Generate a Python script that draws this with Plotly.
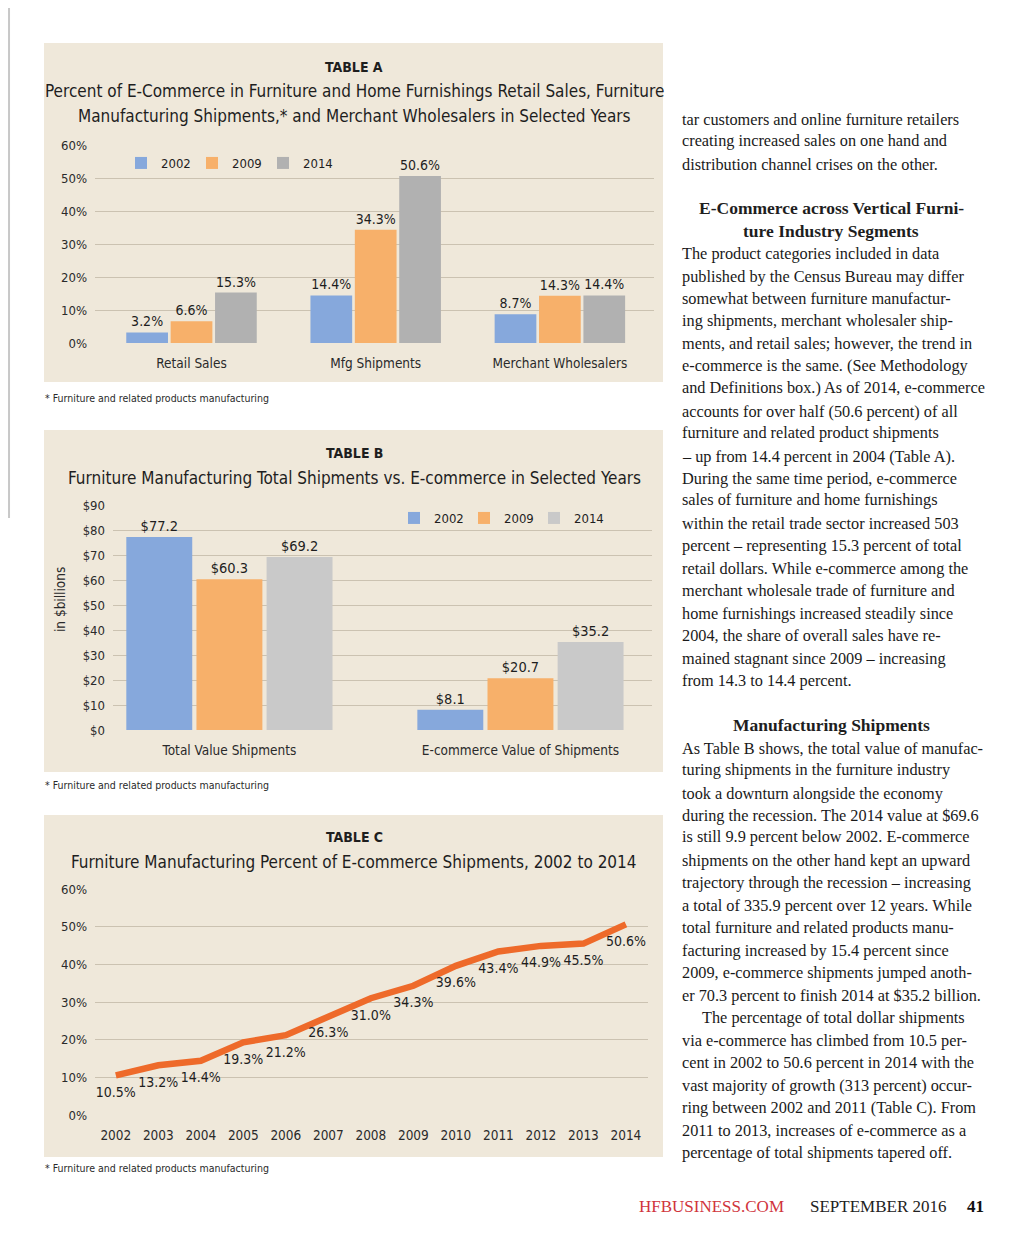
import plotly.graph_objects as go

W, H = 1024, 1255

# ---------------- data ----------------
cats_a = ["Retail Sales", "Mfg Shipments", "Merchant Wholesalers"]
a_2002 = [3.2, 14.4, 8.7]
a_2009 = [6.6, 34.3, 14.3]
a_2014 = [15.3, 50.6, 14.4]

cats_b = ["Total Value Shipments", "E-commerce Value of Shipments"]
b_2002 = [77.2, 8.1]
b_2009 = [60.3, 20.7]
b_2014 = [69.2, 35.2]

years_c = ["2002", "2003", "2004", "2005", "2006", "2007", "2008",
           "2009", "2010", "2011", "2012", "2013", "2014"]
pct_c = [10.5, 13.2, 14.4, 19.3, 21.2, 26.3, 31.0, 34.3, 39.6, 43.4, 44.9, 45.5, 50.6]

series_names = ["2002", "2009", "2014"]

# ---------------- style ----------------
NARROW = "Liberation Sans Narrow, Arial Narrow, DejaVu Sans Condensed, sans-serif"
SERIF = "Liberation Serif, DejaVu Serif, serif"
BLUE = "#86a8dc"
ORANGE = "#f7b06a"
GRAY_A = "#b1b1b1"
GRAY_B = "#c9c9c9"
LINE = "#ee6a2a"
PANEL = "#efe8da"
GRID = "#cbc2b1"
INK = "#1e1e1e"

OX, OY = 8, 8  # page offset compensation


def px(x):
    return (x - OX) / W


def py(y):
    return 1 - (y - OY) / H


fig = go.Figure()

# ---------------- Table A ----------------
for name, vals, col in zip(series_names, [a_2002, a_2009, a_2014], [BLUE, ORANGE, GRAY_A]):
    fig.add_trace(go.Bar(
        x=cats_a, y=vals, name=name, marker=dict(color=col, line=dict(width=0)),
        texttemplate="%{y:.1f}%", textposition="outside", cliponaxis=False,
        constraintext="none",
        textfont=dict(family=NARROW, size=14, color=INK),
        xaxis="x", yaxis="y", legend="legend", hoverinfo="skip"))

# ---------------- Table B ----------------
for name, vals, col in zip(series_names, [b_2002, b_2009, b_2014], [BLUE, ORANGE, GRAY_B]):
    fig.add_trace(go.Bar(
        x=cats_b, y=vals, name=name, marker=dict(color=col, line=dict(width=0)),
        texttemplate="$%{y:.1f}", textposition="outside", cliponaxis=False,
        constraintext="none",
        textfont=dict(family=NARROW, size=14.5, color=INK),
        xaxis="x2", yaxis="y2", legend="legend2", hoverinfo="skip"))

# ---------------- Table C ----------------
fig.add_trace(go.Scatter(
    x=years_c, y=pct_c, mode="lines+markers+text",
    line=dict(color=LINE, width=6.5),
    marker=dict(size=16, color="rgba(0,0,0,0)"),
    text=[f"{v:.1f}%" for v in pct_c], textposition="bottom center",
    textfont=dict(family=NARROW, size=14, color=INK),
    cliponaxis=False, showlegend=False, xaxis="x3", yaxis="y3", hoverinfo="skip"))

axis_font = dict(family=NARROW, size=13, color="#2a2a2a")
cat_font = dict(family=NARROW, size=13.5, color="#2a2a2a")

fig.update_layout(
    width=W, height=H, autosize=False,
    margin=dict(l=0, r=0, t=0, b=0, pad=0, autoexpand=False),
    paper_bgcolor="white", plot_bgcolor="rgba(0,0,0,0)",
    barmode="group", bargap=0.277, bargroupgap=0.06,
    font=dict(family=NARROW, color=INK),
    xaxis=dict(domain=[px(95), px(654)], range=[-0.524, 2.511], anchor="y", automargin=False,
               showgrid=False, ticks="", tickfont=cat_font, ticklabelstandoff=10,
               fixedrange=True),
    yaxis=dict(domain=[py(343), py(145)], range=[0, 60], dtick=10, ticksuffix="%",
               anchor="x", automargin=False, showgrid=True, gridcolor=GRID, gridwidth=1,
               zeroline=False, ticks="", tickfont=axis_font, ticklabelstandoff=7),
    xaxis2=dict(domain=[px(113), px(652)], range=[-0.40, 1.452], anchor="y2", automargin=False,
                showgrid=False, ticks="", tickfont=cat_font, ticklabelstandoff=10),
    yaxis2=dict(domain=[py(730), py(505)], range=[0, 90], dtick=10, tickprefix="$",
                anchor="x2", automargin=False, showgrid=True, gridcolor=GRID, gridwidth=1,
                zeroline=False, ticks="", tickfont=axis_font, ticklabelstandoff=7),
    xaxis3=dict(domain=[px(95), px(648)], range=[-0.49, 12.52], anchor="y3", automargin=False,
                showgrid=False, ticks="", tickfont=cat_font, ticklabelstandoff=10),
    yaxis3=dict(domain=[py(1115), py(889)], range=[0, 60], dtick=10, ticksuffix="%",
                anchor="x3", automargin=False, showgrid=True, gridcolor=GRID, gridwidth=1,
                zeroline=False, ticks="", tickfont=axis_font, ticklabelstandoff=7),
    legend=dict(orientation="h", x=px(121), y=py(163), xanchor="left", yanchor="middle",
                bgcolor="rgba(0,0,0,0)", font=dict(family=NARROW, size=13, color=INK),
                entrywidth=26, entrywidthmode="pixels", traceorder="normal"),
    legend2=dict(orientation="h", x=px(394), y=py(518), xanchor="left", yanchor="middle",
                 bgcolor="rgba(0,0,0,0)", font=dict(family=NARROW, size=13, color=INK),
                 entrywidth=25, entrywidthmode="pixels", traceorder="normal"),
)

# ---------------- panels ----------------
shapes = []
for (y0, y1) in [(43, 382), (430, 772), (815, 1157)]:
    shapes.append(dict(type="rect", xref="paper", yref="paper", x0=px(44), x1=px(663),
                       y0=py(y1), y1=py(y0), fillcolor=PANEL, line=dict(width=0), layer="below"))
shapes.append(dict(type="line", xref="paper", yref="paper", x0=0.001, x1=0.001,
                   y0=py(518), y1=1, line=dict(color="#c8c8c8", width=2)))
fig.update_layout(shapes=shapes)

ann = []


def text(x, y, s, size, family=NARROW, color=INK, anchor="center", bold=False, angle=0):
    if bold:
        s = f"<b>{s}</b>"
    ann.append(dict(x=px(x), y=py(y), xref="paper", yref="paper", text=s, showarrow=False,
                    xanchor=anchor, yanchor="middle", textangle=angle, borderpad=0,
                    font=dict(family=family, size=size, color=color)))


# chart titles
text(354, 67, "TABLE A", 14, bold=True)
text(354, 91, "Percent of E-Commerce in Furniture and Home Furnishings Retail Sales, Furniture", 17)
text(354, 116, "Manufacturing Shipments,* and Merchant Wholesalers in Selected Years", 17)
text(354, 453, "TABLE B", 14, bold=True)
text(354, 478, "Furniture Manufacturing Total Shipments vs. E-commerce in Selected Years", 17)
text(354, 837, "TABLE C", 14, bold=True)
text(354, 862, "Furniture Manufacturing Percent of E-commerce Shipments, 2002 to 2014", 17)
text(60, 600, "in $billions", 13.5, angle=-90, color="#2a2a2a")
for yy in [398, 785, 1168]:
    text(44, yy, "* Furniture and related products manufacturing", 10.5, anchor="left", color="#2a2a2a")

# article text
body = [
    (119, "tar customers and online furniture retailers"),
    (141, "creating increased sales on one hand and"),
    (164, "distribution channel crises on the other."),
    (254, "The product categories included in data"),
    (276, "published by the Census Bureau may differ"),
    (298, "somewhat between furniture manufactur-"),
    (321, "ing shipments, merchant wholesaler ship-"),
    (343, "ments, and retail sales; however, the trend in"),
    (366, "e-commerce is the same. (See Methodology"),
    (388, "and Definitions box.) As of 2014, e-commerce"),
    (411, "accounts for over half (50.6 percent) of all"),
    (433, "furniture and related product shipments"),
    (456, "– up from 14.4 percent in 2004 (Table A)."),
    (478, "During the same time period, e-commerce"),
    (500, "sales of furniture and home furnishings"),
    (523, "within the retail trade sector increased 503"),
    (545, "percent – representing 15.3 percent of total"),
    (568, "retail dollars. While e-commerce among the"),
    (590, "merchant wholesale trade of furniture and"),
    (613, "home furnishings increased steadily since"),
    (635, "2004, the share of overall sales have re-"),
    (658, "mained stagnant since 2009 – increasing"),
    (680, "from 14.3 to 14.4 percent."),
    (748, "As Table B shows, the total value of manufac-"),
    (770, "turing shipments in the furniture industry"),
    (793, "took a downturn alongside the economy"),
    (815, "during the recession. The 2014 value at $69.6"),
    (837, "is still 9.9 percent below 2002. E-commerce"),
    (860, "shipments on the other hand kept an upward"),
    (882, "trajectory through the recession – increasing"),
    (905, "a total of 335.9 percent over 12 years. While"),
    (927, "total furniture and related products manu-"),
    (950, "facturing increased by 15.4 percent since"),
    (972, "2009, e-commerce shipments jumped anoth-"),
    (995, "er 70.3 percent to finish 2014 at $35.2 billion."),
    (1040, "via e-commerce has climbed from 10.5 per-"),
    (1062, "cent in 2002 to 50.6 percent in 2014 with the"),
    (1085, "vast majority of growth (313 percent) occur-"),
    (1107, "ring between 2002 and 2011 (Table C). From"),
    (1130, "2011 to 2013, increases of e-commerce as a"),
    (1152, "percentage of total shipments tapered off."),
]
for yy, s in body:
    text(681, yy, s, 16.3, family=SERIF, anchor="left", color="#1a1a1a")
text(701, 1017, "The percentage of total dollar shipments", 16.3, family=SERIF, anchor="left", color="#1a1a1a")
text(831, 208, "E-Commerce across Vertical Furni-", 17.5, family=SERIF, bold=True)
text(831, 231, "ture Industry Segments", 17.5, family=SERIF, bold=True)
text(831, 725, "Manufacturing Shipments", 17.5, family=SERIF, bold=True)

# footer
text(711, 1206, "HFBUSINESS.COM", 17, family=SERIF, color="#d0343c")
text(878, 1206, "SEPTEMBER 2016", 17, family=SERIF, color="#222222")
text(975, 1206, "41", 17, family=SERIF, bold=True, color="#111111")

fig.update_layout(annotations=ann)

fig.write_html("out.html")
